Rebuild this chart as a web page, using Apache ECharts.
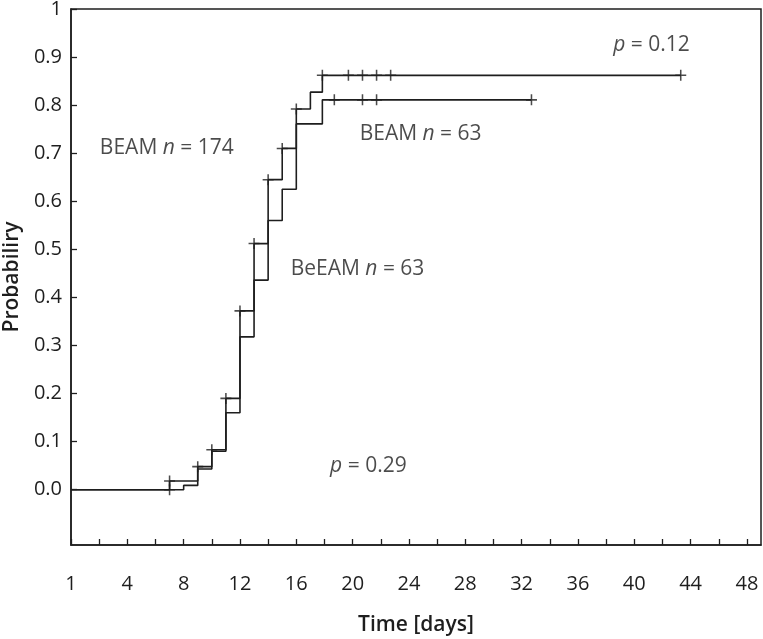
<!DOCTYPE html>
<html>
<head>
<meta charset="utf-8">
<script src="https://cdn.jsdelivr.net/npm/echarts@6/dist/echarts.min.js"></script>
<style>
html,body{margin:0;padding:0;background:#fff;}
#chart{width:763px;height:639px;}
</style>
</head>
<body>
<div id="chart"></div>
<script>
// ---- data ----
const beam174Times = [0, 7, 9, 10, 11, 12, 13, 14, 15, 16, 17, 17.85, 43.3];
const beam174Probs = [0, 0.018, 0.048, 0.083, 0.19, 0.372, 0.512, 0.645, 0.71, 0.792, 0.827, 0.862, 0.862];
const beam174CensorTimes = [7, 9, 10, 11, 12, 13, 14, 15, 16, 17.85, 19.7, 20.7, 21.7, 22.7, 43.3];

const beam63Times = [0, 8, 9, 10, 11, 12, 13, 14, 15, 16, 17.85, 32.7];
const beam63Probs = [0, 0.009, 0.043, 0.08, 0.16, 0.318, 0.436, 0.56, 0.625, 0.761, 0.811, 0.811];
const beam63CensorTimes = [7, 18.7, 20.7, 21.7, 32.7];

const xTickValues = [0,2,4,6,8,10,12,14,16,18,20,22,24,26,28,30,32,34,36,38,40,42,44,46,48];
const xLabelValues = [0,4,8,12,16,20,24,28,32,36,40,44,48];
const xLabelTexts = ['1','4','8','12','16','20','24','28','32','36','40','44','48'];
const yLabelValues = [0,0.1,0.2,0.3,0.4,0.5,0.6,0.7,0.8,0.9,1];
const yLabelTexts = ['0.0','0.1','0.2','0.3','0.4','0.5','0.6','0.7','0.8','0.9','1'];

const annoTexts = [
  ['BEAM ', 'n', ' = 174'],
  ['BEAM ', 'n', ' = 63'],
  ['BeEAM ', 'n', ' = 63'],
  ['', 'p', ' = 0.12'],
  ['', 'p', ' = 0.29']
];
const annoX = [2.05, 20.5, 15.6, 38.5, 18.4];
const annoY = [0.71, 0.74, 0.46, 0.925, 0.05];

// ---- helpers ----
function stepValue(times, probs, t) {
  let v = probs[0];
  for (let i = 0; i < times.length; i++) { if (times[i] <= t) v = probs[i]; }
  return v;
}
const pairs = (ts, ps) => ts.map((t, i) => [t, ps[i]]);
const c1Censor = beam174CensorTimes.map(t => [t, stepValue(beam174Times, beam174Probs, t)]);
const c2Censor = beam63CensorTimes.map(t => [t, t === 7 ? 0 : stepValue(beam63Times, beam63Probs, t)]);

const FONT = '"Open Sans", "Noto Sans", sans-serif';
const INK = '#1e1e1e';
const plus = 'path://M4.3,0H5.7V4.3H10V5.7H5.7V10H4.3V5.7H0V4.3H4.3Z';

const chart = echarts.init(document.getElementById('chart'), null, {renderer: 'canvas'});
chart.setOption({
  animation: false,
  backgroundColor: '#fff',
  grid: {left: 71, right: 2, top: 9, bottom: 94, show: true, borderColor: INK, borderWidth: 1.5,
         containLabel: false, outerBoundsMode: 'none'},
  xAxis: {
    type: 'value', min: 0, max: 49,
    name: 'Time [days]', nameLocation: 'middle', nameGap: 70,
    nameTextStyle: {fontFamily: FONT, fontSize: 21, fontWeight: 600, color: INK},
    axisLine: {show: true, onZero: false, lineStyle: {color: INK, width: 1.5}},
    axisTick: {show: true, inside: true, length: 6, customValues: xTickValues, lineStyle: {color: INK, width: 1.3}},
    axisLabel: {
      customValues: xLabelValues, margin: 29, fontFamily: FONT, fontSize: 20, color: INK,
      formatter: v => xLabelTexts[xLabelValues.indexOf(v)]
    },
    splitLine: {show: false}
  },
  yAxis: {
    type: 'value', min: -0.115, max: 1,
    name: 'Probabiliry', nameLocation: 'middle', nameGap: 46,
    nameTextStyle: {fontFamily: FONT, fontSize: 21, fontWeight: 600, color: INK},
    axisLine: {show: true, onZero: false, lineStyle: {color: INK, width: 1.5}},
    axisTick: {show: true, inside: true, length: 6, customValues: yLabelValues, lineStyle: {color: INK, width: 1.3}},
    axisLabel: {
      customValues: yLabelValues, margin: 9, fontFamily: FONT, fontSize: 20, color: INK,
      formatter: v => yLabelTexts[yLabelValues.indexOf(v)]
    },
    splitLine: {show: false}
  },
  series: [
    {type: 'line', name: 'BEAM n=174', step: 'end', data: pairs(beam174Times, beam174Probs),
     symbol: 'none', lineStyle: {color: INK, width: 1.6}},
    {type: 'line', name: 'BeEAM n=63', step: 'end', data: pairs(beam63Times, beam63Probs),
     symbol: 'none', lineStyle: {color: INK, width: 1.6}},
    {type: 'scatter', data: c1Censor.concat(c2Censor), symbol: plus, symbolSize: 11,
     itemStyle: {color: INK}},
    {type: 'scatter', symbolSize: 0, silent: true,
     data: annoTexts.map((t, i) => ({value: [annoX[i], annoY[i]], parts: t})),
     label: {
       show: true, position: 'right', distance: 0,
       formatter: p => '{a|' + p.data.parts[0] + '}{i|' + p.data.parts[1] + '}{a|' + p.data.parts[2] + '}',
       rich: {
         a: {fontFamily: FONT, fontSize: 21, color: INK},
         i: {fontFamily: FONT, fontSize: 21, color: INK, fontStyle: 'italic'}
       }
     }}
  ]
});
</script>
</body>
</html>
